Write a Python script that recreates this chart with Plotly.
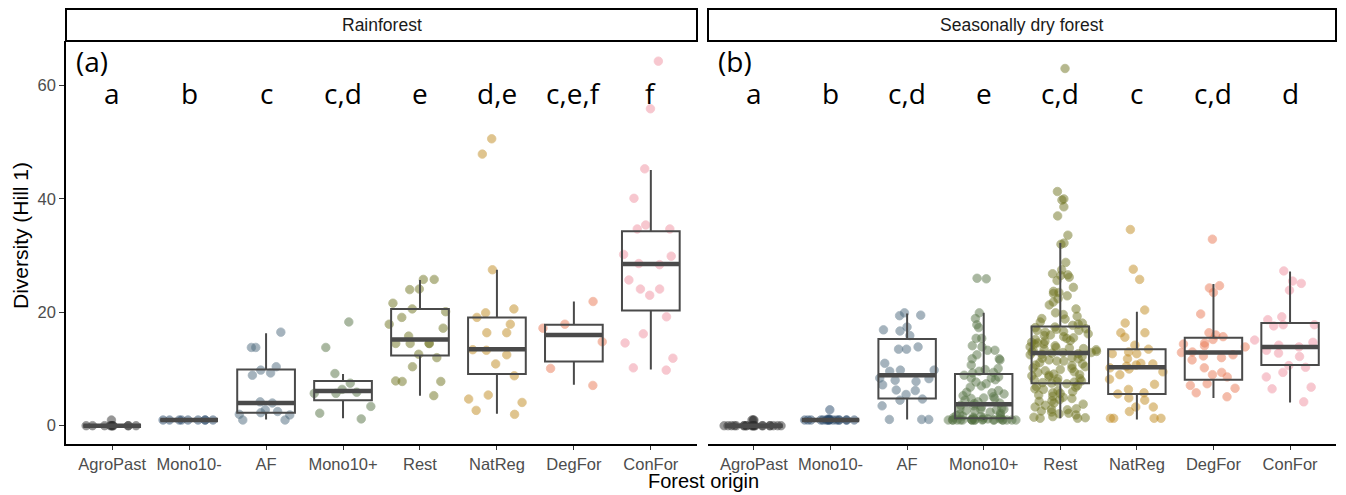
import plotly.graph_objects as go

categories = ["AgroPast", "Mono10-", "AF", "Mono10+", "Rest", "NatReg", "DegFor", "ConFor"]
point_colors = ["#2e2e2e", "#28496b", "#4d6a7d", "#557244", "#6f7320", "#c08a20", "#ea7a55", "#f090a0"]
letters_rain = ["a", "b", "c", "c,d", "e", "d,e", "c,e,f", "f"]
letters_dry = ["a", "b", "c,d", "e", "c,d", "c", "c,d", "d"]

# ---------------- Rainforest points ----------------
rf_agropast = [0, 0, 0, 0, 0, 0, 0, 0, 0, 0, 0, 1.0]
rf_mono10m = [1.0, 1.0, 1.0, 1.0, 1.0, 1.0, 1.0, 1.0, 1.0]
rf_af = [16.5, 13.8, 13.8, 10.4, 9.3, 9.8, 8.9, 4.2, 4.0, 2.0, 2.5, 2.3, 1.9, 2.8, 1.0, 1.0]
rf_mono10p = [18.3, 13.8, 9.2, 7.5, 6.4, 5.9, 5.7, 5.7, 3.4, 2.2, 1.2]
rf_rest = [25.8, 25.8, 24.1, 24.0, 21.6, 20.6, 20.1, 19.1, 17.9, 17.2, 15.8, 14.5, 14.5,
           14.5, 14.5, 12.6, 12.0, 10.4, 7.8, 7.9, 7.8, 5.3]
rf_natreg = [50.6, 47.9, 27.5, 20.6, 19.9, 19.1, 17.9, 16.4, 16.4, 13.4, 13.3, 12.5, 10.9,
             8.8, 5.4, 4.7, 4.1, 2.7, 2.0]
rf_degfor = [21.9, 17.9, 17.2, 14.8, 10.1, 7.1]
rf_confor = [64.3, 55.9, 45.3, 40.1, 35.4, 34.7, 34.7, 29.9, 30.2, 28.6, 28.4, 25.7, 24.1,
             24.1, 23.0, 19.2, 16.2, 14.6, 11.9, 10.2, 9.8]

# Rainforest box statistics
rf_lower = [0, 1.0, 1.1, 1.3, 5.3, 2.1, 7.2, 9.9]
rf_q1 = [0, 1.0, 2.3, 4.5, 12.4, 9.1, 11.3, 20.3]
rf_median = [0, 1.0, 4.0, 6.1, 15.2, 13.5, 16.0, 28.5]
rf_q3 = [0, 1.0, 9.9, 7.9, 20.6, 19.1, 17.8, 34.3]
rf_upper = [0, 1.0, 16.3, 9.1, 25.7, 27.5, 21.9, 45.1]

# ---------------- Seasonally dry forest points ----------------
sd_agropast = [0, 0, 0, 0, 0, 0, 0, 0, 0, 0, 0, 0, 0, 0, 0, 0, 0, 0, 0, 0, 0, 0, 1.0, 1.0, 1.0]
sd_mono10m = [1.0, 1.0, 1.0, 1.0, 1.0, 1.0, 1.0, 1.0, 1.0, 1.0, 1.0, 1.0, 1.0, 1.0, 1.0,
              1.0, 1.1, 1.2, 2.8]
sd_af = [19.9, 19.4, 19.5, 16.7, 15.9, 16.9, 17.4, 13.5, 13.9, 13.5, 9.8, 9.6, 8.4, 7.8,
         9.8, 8.3, 6.3, 6.2, 4.7, 4.5, 3.5, 1.1, 1.1, 1.1, 8.0, 7.2, 5.5, 11.0]
sd_mono10p = [26.0, 25.9,
              19.9, 18.9, 17.8, 17.3, 15.4, 15.4, 14.1, 13.3, 13.3, 13.9, 11.8, 11.8, 11.6,
              10.1, 9.9, 9.6, 9.4, 12.5, 10.7, 9.3,
              8.4, 8.4, 8.1, 8.6, 7.0, 7.4, 6.8, 5.8, 5.1, 5.9, 5.3, 4.8, 4.8, 4.5, 4.9, 4.2,
              6.2, 7.7, 8.9, 4.0, 3.9, 5.6,
              2.9, 2.8, 3.0, 2.7, 2.9, 3.1, 3.5, 2.2, 1.9, 1.6, 1.5, 2.4, 3.6, 1.8, 2.0, 1.4,
              1.7, 2.6, 3.3, 1.5, 1.4, 1.3,
              1.0, 1.0, 1.0, 1.0, 1.0, 1.0, 1.0, 1.0, 1.0, 1.0, 1.0, 1.0, 1.0, 1.0, 1.0, 1.0,
              1.0, 1.0, 1.1, 1.1, 1.2, 1.2]
sd_rest = [63.0, 41.3, 40.0, 39.8, 38.6, 37.0, 33.6,
           32.2, 32.0, 28.8, 27.5, 26.8, 26.6, 26.5, 26.2, 25.6, 24.4, 23.7, 23.5, 23.3, 22.9,
           22.4, 21.8, 21.3, 20.6, 19.9, 19.6, 19.3, 18.9, 18.8, 18.3, 18.1, 17.9, 17.7,
           17.4, 17.3, 17.1, 16.8, 16.8, 16.5, 16.2, 16.0, 15.9, 15.5, 15.4, 15.2, 15.0, 14.9,
           14.6, 14.4, 14.4, 14.1, 13.9, 13.8, 13.6, 13.5, 13.4, 13.3, 13.1, 13.0, 12.9, 12.9,
           12.8, 14.7, 15.7, 16.6, 17.0, 13.7,
           12.7, 12.6, 12.5, 12.2, 12.0, 11.9, 11.6, 11.4, 11.4, 11.1, 10.9, 10.7, 10.6, 10.2,
           10.1, 9.9, 9.7, 9.5, 9.4, 9.1, 8.9, 8.8, 8.6, 8.3, 8.3, 8.1, 7.9, 7.8, 7.7, 7.6,
           7.5, 11.8, 10.4, 9.0,
           7.4, 7.1, 6.9, 6.8, 6.5, 6.4, 6.0, 5.8, 5.7, 5.4, 5.2, 5.0, 4.8, 4.4, 4.3, 4.0,
           3.8, 3.6, 3.3, 3.0, 2.9, 2.8, 2.6, 2.4, 2.1, 1.9, 1.6, 1.5, 1.4, 1.3, 1.3, 6.2,
           4.6, 2.2]
sd_natreg = [34.6, 27.6, 25.8, 20.4, 18.1, 16.4, 16.4, 15.6, 12.7, 12.7, 11.0, 10.9, 10.7,
             10.5, 9.5, 9.0, 8.2, 6.4, 5.8, 4.5, 4.9, 3.3, 3.3, 1.3, 1.3, 1.3, 1.3, 13.5,
             14.2, 10.2, 11.8, 7.3, 5.6, 2.5, 13.0, 10.0]
sd_degfor = [32.9, 24.7, 23.5, 24.3, 19.7, 16.4, 16.0, 15.7, 14.4, 14.1, 14.6, 13.9, 12.0,
             11.6, 12.3, 12.5, 9.4, 8.6, 9.0, 7.4, 6.6, 5.8, 7.1, 5.1, 13.0, 12.9, 15.2, 10.2]
sd_confor = [27.3, 25.5, 25.1, 23.9, 19.2, 18.7, 17.8, 17.8, 17.6, 14.7, 13.3, 12.8, 13.9,
             12.2, 10.6, 9.4, 10.3, 8.6, 6.5, 4.2, 6.8, 14.2, 15.1]

# Seasonally dry forest box statistics
sd_lower = [0, 1.0, 1.1, 1.0, 1.3, 1.1, 4.9, 4.1]
sd_q1 = [0, 1.0, 4.8, 1.3, 7.5, 5.6, 8.1, 10.7]
sd_median = [0, 1.0, 8.9, 3.8, 12.8, 10.3, 12.9, 13.9]
sd_q3 = [0, 1.0, 15.3, 9.1, 17.5, 13.5, 15.5, 18.1]
sd_upper = [0, 1.0, 19.8, 19.9, 32.2, 20.1, 25.0, 27.2]

panel_titles = ["Rainforest", "Seasonally dry forest"]
panel_tags = ["(a)", "(b)"]
y_ticks = [0, 20, 40, 60]

BOX_COLOR = "#4a4a4a"
SANS = "Liberation Sans, Arial, sans-serif"
TICK_FONT = dict(family=SANS, size=16.5, color="#4d4d4d")
LETTER_FONT = dict(family="Open Sans, sans-serif", size=28, color="black")

panels = [
    dict(points=[rf_agropast, rf_mono10m, rf_af, rf_mono10p, rf_rest, rf_natreg, rf_degfor, rf_confor],
         lower=rf_lower, q1=rf_q1, median=rf_median, q3=rf_q3, upper=rf_upper,
         letters=letters_rain, xa="x", ya="y"),
    dict(points=[sd_agropast, sd_mono10m, sd_af, sd_mono10p, sd_rest, sd_natreg, sd_degfor, sd_confor],
         lower=sd_lower, q1=sd_q1, median=sd_median, q3=sd_q3, upper=sd_upper,
         letters=letters_dry, xa="x2", ya="y2"),
]

fig = go.Figure()

for p in panels:
    # jittered points (plotly scales jitter by local density, so widen spread-out groups a bit)
    for cat, vals, col in zip(categories, p["points"], point_colors):
        spread = max(vals) - min(vals)
        jw = 0.8 if spread < 3 else 0.95
        fig.add_trace(go.Box(
            x=[cat] * len(vals), y=vals, xaxis=p["xa"], yaxis=p["ya"],
            boxpoints="all", jitter=1.0, pointpos=0, width=jw,
            fillcolor="rgba(0,0,0,0)", line=dict(width=0, color="rgba(0,0,0,0)"),
            marker=dict(color=col, opacity=0.5, size=8.5, line=dict(color=col, width=0.8)),
            hoverinfo="skip", showlegend=False))
    # boxes (precomputed statistics)
    fig.add_trace(go.Box(
        x=categories, q1=p["q1"], median=p["median"], q3=p["q3"],
        lowerfence=p["lower"], upperfence=p["upper"], orientation="v",
        xaxis=p["xa"], yaxis=p["ya"], width=0.75, whiskerwidth=0,
        fillcolor="rgba(0,0,0,0)", line=dict(color=BOX_COLOR, width=2),
        boxpoints=False, hoverinfo="skip", showlegend=False))
    # thick median bar
    fig.add_trace(go.Box(
        x=categories, q1=p["median"], median=p["median"], q3=p["median"],
        lowerfence=p["median"], upperfence=p["median"], orientation="v",
        xaxis=p["xa"], yaxis=p["ya"], width=0.75, whiskerwidth=0,
        fillcolor="rgba(0,0,0,0)", line=dict(color=BOX_COLOR, width=4.5),
        boxpoints=False, hoverinfo="skip", showlegend=False))

# layout geometry (pixels)
W, H = 1346, 495
ML, MR, MT, MB = 66, 10, 41, 51
PW, PH = W - ML - MR, H - MT - MB
d1 = [0, (697 - ML) / PW]
d2 = [(708 - ML) / PW, 1]
YR = [-3.23, 67.85]

xaxis_common = dict(type="category", categoryorder="array", categoryarray=categories,
                    range=[-0.6, 7.6], showline=True, linecolor="black", linewidth=1.6,
                    ticks="outside", ticklen=4, tickwidth=1.3, tickcolor="#333333",
                    tickfont=TICK_FONT, showgrid=False, zeroline=False, fixedrange=True)

fig.update_layout(
    width=W, height=H, margin=dict(l=ML, r=MR, t=MT, b=MB),
    plot_bgcolor="white", paper_bgcolor="white", showlegend=False, boxmode="overlay",
    xaxis=dict(domain=d1, anchor="y", **xaxis_common),
    xaxis2=dict(domain=d2, anchor="y2", **xaxis_common),
    yaxis=dict(range=YR, anchor="x", tickvals=y_ticks, showline=True, linecolor="black",
               linewidth=1.6, ticks="outside", ticklen=5, tickwidth=1.3, tickcolor="#333333",
               tickfont=TICK_FONT, showgrid=False, zeroline=False, fixedrange=True),
    yaxis2=dict(range=YR, anchor="x2", showticklabels=False, showline=False, ticks="",
                showgrid=False, zeroline=False, fixedrange=True),
)

shapes = []
annotations = []
strip_top = 1 + (MT - 9) / PH
for dom, title, tag, xa, p in zip([d1, d2], panel_titles, panel_tags, ["x", "x2"], panels):
    shapes.append(dict(type="rect", xref="paper", yref="paper", x0=dom[0], x1=dom[1],
                       y0=1.0, y1=strip_top, line=dict(color="black", width=2),
                       fillcolor="white", layer="above"))
    annotations.append(dict(text=title, xref="paper", yref="paper", x=(dom[0] + dom[1]) / 2,
                            y=(1.0 + strip_top) / 2, showarrow=False, xanchor="center",
                            yanchor="middle",
                            font=dict(family=SANS, size=17.5, color="#1a1a1a")))
    annotations.append(dict(text=tag, xref=xa + " domain", yref="paper", x=0.012, y=0.95,
                            xanchor="left", yanchor="middle", showarrow=False, font=LETTER_FONT))
    ya = "y" if xa == "x" else "y2"
    for cat, let in zip(categories, p["letters"]):
        annotations.append(dict(text=let, xref=xa, yref=ya, x=cat, y=58.7, showarrow=False,
                                xanchor="center", yanchor="middle", font=LETTER_FONT))

annotations.append(dict(text="Forest origin", xref="paper", yref="paper",
                        x=(703 - ML) / PW, y=-(481 - (MT + PH)) / PH, showarrow=False,
                        xanchor="center", yanchor="middle",
                        font=dict(family=SANS, size=20, color="black")))
annotations.append(dict(text="Diversity (Hill 1)", xref="paper", yref="paper",
                        x=(20 - ML) / PW, y=(MT + PH - 236) / PH, showarrow=False, textangle=-90,
                        xanchor="center", yanchor="middle",
                        font=dict(family=SANS, size=21, color="black")))

fig.update_layout(shapes=shapes, annotations=annotations)
fig.write_html("out.html")
